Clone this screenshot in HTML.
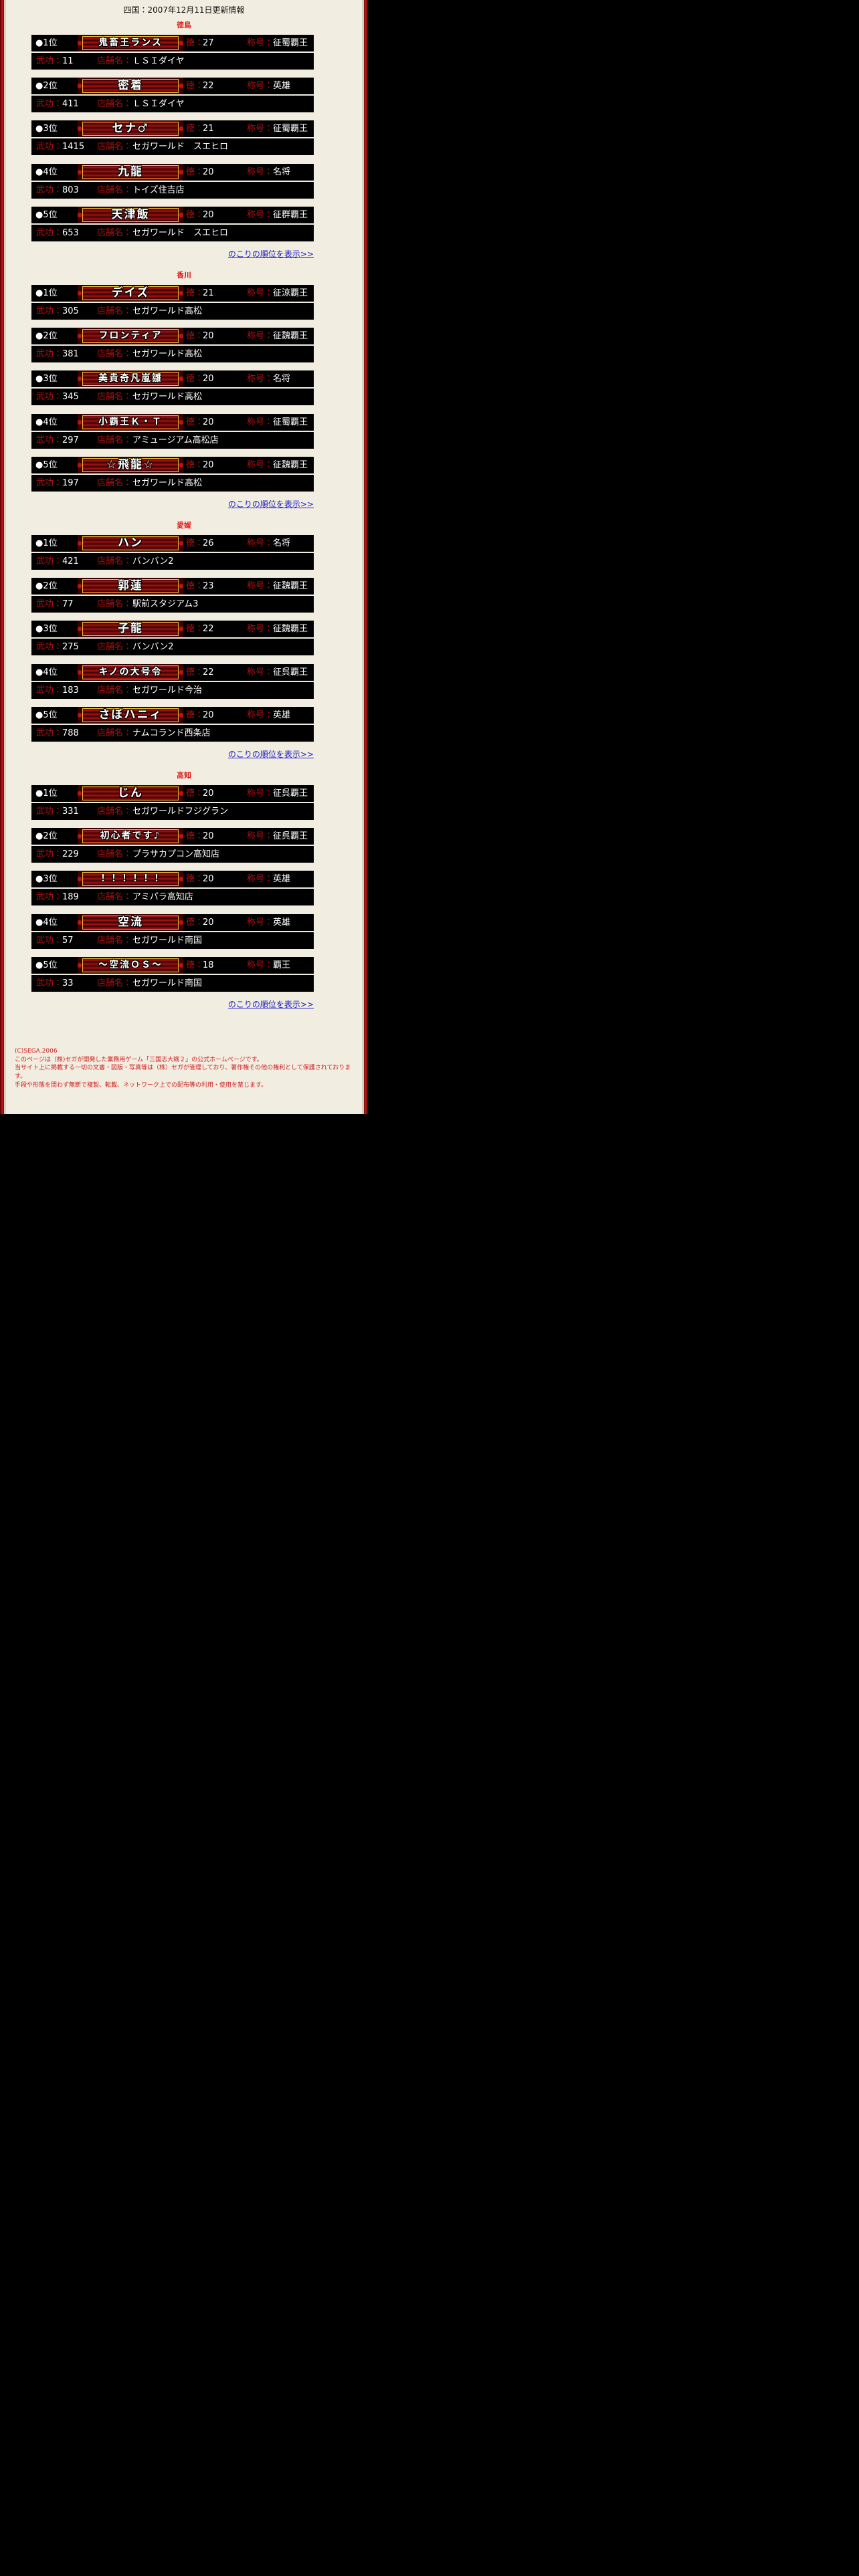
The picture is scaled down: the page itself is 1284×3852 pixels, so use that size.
<!DOCTYPE html>
<html><head><meta charset="utf-8">
<style>
html,body{margin:0;padding:0;background:#000;width:1284px;height:3852px;overflow:hidden}
body{font-family:"DejaVu Sans","Noto Sans CJK JP",sans-serif;}
#panel{position:absolute;left:0;top:0;width:550px;height:1666px;background:#f1ede1;}
#panel:before{content:"";position:absolute;left:0;top:0;width:9px;height:100%;background:linear-gradient(90deg,#6a0000 0,#6a0000 2px,#b01818 2px,#b01818 5px,#7a0a0a 5px,#7a0a0a 6px,#d8d0c4 6px,#d8d0c4 9px);}
#panel:after{content:"";position:absolute;right:0;top:0;width:9px;height:100%;background:linear-gradient(90deg,#d8d0c4 0,#d8d0c4 3px,#7a0a0a 3px,#7a0a0a 4px,#b01818 4px,#b01818 7px,#6a0000 7px);}
.t{position:absolute;white-space:nowrap;line-height:1}
.title{font-size:12px;color:#111;left:0;width:550px;text-align:center}
.pref{font-size:11px;color:#e01010;font-weight:bold;left:0;width:550px;text-align:center}
.bar{position:absolute;left:47px;width:422px;height:25px;background:#000}
.bar span{position:absolute;top:6px;font-size:13px;line-height:13px;color:#fff;white-space:nowrap}
.bar .r{color:#b01010}
.plate{position:absolute;left:69px;top:0;width:158px;height:25px;
 background:radial-gradient(circle at 3px 50%,#c01010 0,#c01010 3px,transparent 4px),
 radial-gradient(circle at 155px 50%,#c01010 0,#c01010 3px,transparent 4px),#3a0000;}
.plate i{position:absolute;left:7px;top:2px;width:142px;height:19px;border:1px solid #e8c030;
 background:repeating-linear-gradient(180deg,#a01010 0,#a01010 1px,#3a0505 1px,#3a0505 2px);}
.plate b{position:absolute;left:0;top:3px;width:158px;text-align:center;color:#fff;font-size:17px;line-height:19px;font-weight:bold;letter-spacing:2px;
 text-shadow:1px 1px 0 #000,-1px -1px 0 #000,1px -1px 0 #000,-1px 1px 0 #000;white-space:nowrap}
.more{position:absolute;font-size:12px;color:#2020c0;text-decoration:underline;right:81px;}
.foot{position:absolute;left:22px;top:1566px;width:520px;font-size:9px;line-height:12.7px;color:#d02020;white-space:nowrap}
</style></head><body>
<div id="panel">
<div class="t title" style="top:9px">四国：2007年12月11日更新情報</div>
<div id="c"></div>
<div class="foot">(C)SEGA,2006<br>このページは（株)セガが開発した業務用ゲーム「三国志大戦２」の公式ホームページです。<br>当サイト上に掲載する一切の文書・図版・写真等は（株）セガが管理しており、著作権その他の権利として保護されておりま<br>す。<br>手段や形態を問わず無断で複製、転載、ネットワーク上での配布等の利用・使用を禁じます。</div>
</div>
<script>
var D=[["徳島",[["鬼畜王ランス","27","征蜀覇王","11","ＬＳＩダイヤ"],["密着","22","英雄","411","ＬＳＩダイヤ"],["セナ♂","21","征蜀覇王","1415","セガワールド　スエヒロ"],["九龍","20","名将","803","トイズ住吉店"],["天津飯","20","征群覇王","653","セガワールド　スエヒロ"]]],
["香川",[["デイズ","21","征涼覇王","305","セガワールド高松"],["フロンティア","20","征魏覇王","381","セガワールド高松"],["美貴奇凡嵐雛","20","名将","345","セガワールド高松"],["小覇王Ｋ・Ｔ","20","征蜀覇王","297","アミュージアム高松店"],["☆飛龍☆","20","征魏覇王","197","セガワールド高松"]]],
["愛媛",[["ハン","26","名将","421","バンバン2"],["郭蓮","23","征魏覇王","77","駅前スタジアム3"],["子龍","22","征魏覇王","275","バンバン2"],["キノの大号令","22","征呉覇王","183","セガワールド今治"],["さぼハニィ","20","英雄","788","ナムコランド西条店"]]],
["高知",[["じん","20","征呉覇王","331","セガワールドフジグラン"],["初心者です♪","20","征呉覇王","229","プラサカプコン高知店"],["！！！！！！","20","英雄","189","アミパラ高知店"],["空流","20","英雄","57","セガワールド南国"],["～空流ＯＳ～","18","覇王","33","セガワールド南国"]]]];
var h="";
D.forEach(function(s,si){var b=si*374;
h+='<div class="t pref" style="top:'+(32+b)+'px">'+s[0]+'</div>';
s[1].forEach(function(r,k){var y=Math.round(52+b+k*64.2);
var fs=r[0].length>5?14:17;
h+='<div class="bar" style="top:'+y+'px"><span style="left:6px">●'+(k+1)+'位</span><div class="plate"><i></i><b style="font-size:'+fs+'px">'+r[0]+'</b></div><span class="r" style="left:231px">徳：</span><span style="left:256px">'+r[1]+'</span><span class="r" style="left:322px">称号：</span><span style="left:361px">'+r[2]+'</span></div>';
h+='<div class="bar" style="top:'+(y+27)+'px"><span class="r" style="left:7px">武功：</span><span style="left:46px">'+r[3]+'</span><span class="r" style="left:98px">店舗名：</span><span style="left:151px">'+r[4]+'</span></div>';});
h+='<div class="more" style="top:'+(371+b)+'px">のこりの順位を表示&gt;&gt;</div>';});
document.getElementById("c").innerHTML=h;
</script>
</body></html>
